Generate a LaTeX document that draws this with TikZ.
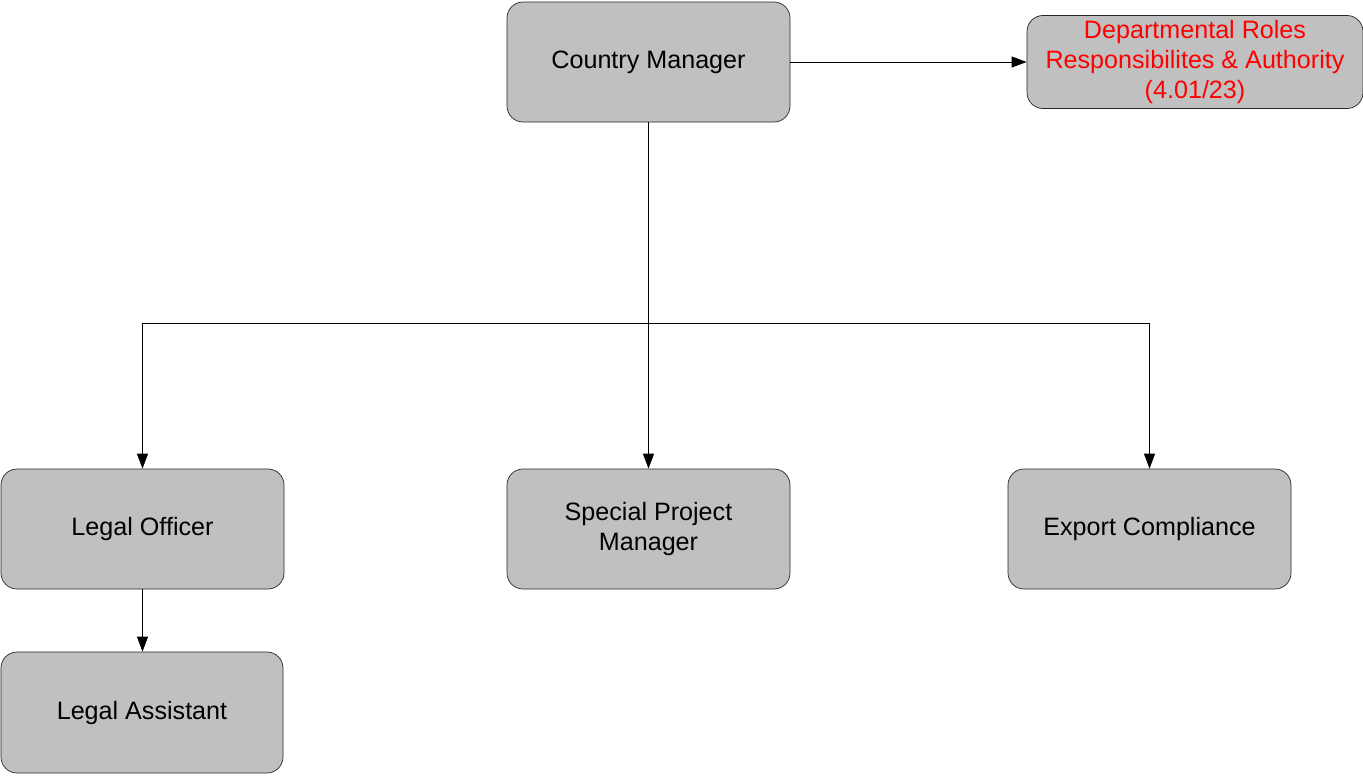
\documentclass[tikz,border=0pt]{standalone}
\usepackage{fontspec}
\setmainfont{Liberation Sans}
\usepackage{tikz}
\usetikzlibrary{arrows.meta,positioning,calc}
\definecolor{boxgray}{HTML}{C0C0C0}

\begin{document}
\begin{tikzpicture}[
  role/.style={draw=black!85,fill=boxgray,rounded corners=0.32cm,minimum width=5.66cm,minimum height=2.4cm,align=center,font=\fontsize{14.3}{17.2}\selectfont,inner sep=2pt},
  link/.style={-{Triangle[length=0.3cm,width=0.22cm]},line width=0.5pt}
]
\useasboundingbox (0,0) rectangle (27.26,-15.5);
\node[role] (cm) at (12.97,-1.24) {Country Manager};
\node[role,minimum width=6.72cm,minimum height=1.86cm,text=red] (dept) at (23.9,-1.24) {Departmental Roles\\Responsibilites \& Authority\\(4.01/23)};
\node[role] (lo) at (2.85,-10.58) {Legal Officer};
\node[role] (spm) at (12.97,-10.58) {Special Project\\Manager};
\node[role] (ec) at (22.99,-10.58) {Export Compliance};
\node[role,minimum width=5.64cm,minimum height=2.42cm] (la) at (2.84,-14.25) {Legal Assistant};
\coordinate (bus) at (12.97,-6.46);
\draw[link] (cm.east) -- (dept.west);
\draw[line width=0.5pt] (cm.south) -- (bus);
\draw[link] (bus) -| (lo.north);
\draw[link] (bus) -| (ec.north);
\draw[link] (bus) -- (spm.north);
\draw[link] (lo.south) -- (lo.south |- la.north);
\end{tikzpicture}
\end{document}
